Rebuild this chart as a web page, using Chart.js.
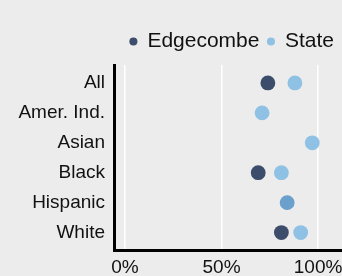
<!DOCTYPE html>
<html>
<head>
<meta charset="utf-8">
<script src="https://cdn.jsdelivr.net/npm/chart.js@4"></script>
<style>
  html, body { margin: 0; padding: 0; background: #ececec; }
  #wrap { width: 342px; height: 276px; }
</style>
</head>
<body>
<div id="wrap"><canvas id="chart" width="342" height="276"></canvas></div>
<script>
// Dados (percentuais)
const grupos = ['All', 'Amer. Ind.', 'Asian', 'Black', 'Hispanic', 'White'];
const edgecombe = [74, null, null, 69, null, 81];
const estado = [88, 71, 97, 81, 84, 91];
const ticksX = [0, 50, 100];

const corEdgecombe = '#3b4d6b';
const corEstado = '#8ec1e3';
const corSobreposta = '#6aa0cb'; // Hispanic: os dois pontos coincidem

// monta os pontos (x = valor, y = índice da categoria), ignorando valores vazios
function pontos(valores) {
  return valores
    .map((v, i) => (v === null ? null : { x: v, y: i }))
    .filter(p => p !== null);
}

const coresEstado = estado.map((v, i) =>
  (edgecombe[i] === null && grupos[i] === 'Hispanic') ? corSobreposta : corEstado);

const fonte = "'Liberation Sans', Arial, sans-serif";

// fundo cinza claro no canvas
const fundo = {
  id: 'fundo',
  beforeDraw(chart) {
    const c = chart.ctx;
    c.save();
    c.fillStyle = '#ececec';
    c.fillRect(0, 0, chart.width, chart.height);
    c.restore();
  }
};

// espaço extra entre a legenda e a área do gráfico
const espacoLegenda = {
  id: 'espacoLegenda',
  beforeInit(chart) {
    const legenda = chart.legend;
    const fitOriginal = legenda.fit;
    legenda.fit = function () {
      fitOriginal.call(this);
      this.height += 3;
    };
  }
};

const ctx = document.getElementById('chart').getContext('2d');
new Chart(ctx, {
  type: 'scatter',
  data: {
    datasets: [
      {
        label: 'Edgecombe',
        data: pontos(edgecombe),
        backgroundColor: corEdgecombe,
        pointBackgroundColor: corEdgecombe,
        borderWidth: 0,
        pointRadius: 7.4,
        pointHoverRadius: 7.4
      },
      {
        label: 'State',
        data: pontos(estado),
        backgroundColor: corEstado,
        pointBackgroundColor: coresEstado,
        borderWidth: 0,
        pointRadius: 7.4,
        pointHoverRadius: 7.4
      }
    ]
  },
  options: {
    responsive: false,
    animation: false,
    layout: { autoPadding: false, padding: { top: 23, right: 0, bottom: 0, left: 0 } },
    plugins: {
      tooltip: { enabled: false },
      legend: {
        display: true,
        position: 'top',
        align: 'end',
        labels: {
          usePointStyle: true,
          pointStyle: 'circle',
          boxWidth: 7,
          boxHeight: 5.7,
          padding: 8,
          color: '#111111',
          font: { family: fonte, size: 21 }
        }
      }
    },
    scales: {
      x: {
        type: 'linear',
        min: -5.7,
        max: 112.4,
        afterBuildTicks(scale) {
          scale.ticks = ticksX.map(v => ({ value: v }));
        },
        afterFit(scale) {
          scale.height = 25.5;
          scale.paddingLeft = 0;
          scale.paddingRight = 0;
        },
        ticks: {
          color: '#111111',
          font: { family: fonte, size: 19 },
          padding: 6,
          callback: v => v + '%'
        },
        grid: { color: '#ffffff', lineWidth: 1.5, drawTicks: false },
        border: { color: '#000000', width: 3 }
      },
      y: {
        type: 'linear',
        reverse: true,
        min: -0.6,
        max: 5.6,
        afterBuildTicks(scale) {
          scale.ticks = grupos.map((g, i) => ({ value: i }));
        },
        afterFit(scale) {
          scale.width = 114;
          scale.paddingTop = 0;
          scale.paddingBottom = 0;
        },
        ticks: {
          color: '#111111',
          font: { family: fonte, size: 19 },
          padding: 9,
          callback: v => grupos[v]
        },
        grid: { display: false, drawTicks: false },
        border: { color: '#000000', width: 3 }
      }
    }
  },
  plugins: [fundo, espacoLegenda]
});
</script>
</body>
</html>
